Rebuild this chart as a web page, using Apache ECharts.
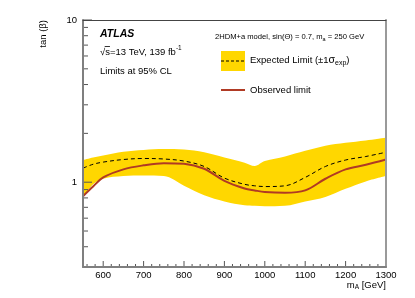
<!DOCTYPE html>
<html><head><meta charset="utf-8">
<script src="https://cdn.jsdelivr.net/npm/echarts@6/dist/echarts.min.js"></script>
<style>html,body{margin:0;padding:0;background:#fff}#c{width:415px;height:298px}</style>
</head><body><div id="c"></div>
<script>
// ---- data ----
const massPoints = [550, 575, 600, 650, 700, 750, 800, 850, 900, 950, 975, 1000, 1050, 1100, 1150, 1200, 1250, 1300];
const observed   = [0.82, 0.94, 1.07, 1.20, 1.27, 1.31, 1.30, 1.21, 1.02, 0.915, 0.89, 0.87, 0.86, 0.89, 1.05, 1.20, 1.28, 1.38];
const expected   = [1.22, 1.29, 1.33, 1.38, 1.40, 1.39, 1.35, 1.25, 1.06, 0.97, 0.95, 0.94, 0.95, 1.07, 1.25, 1.37, 1.44, 1.53];
const bandUpper  = [1.37, 1.42, 1.46, 1.54, 1.58, 1.60, 1.59, 1.53, 1.42, 1.32, 1.26, 1.35, 1.44, 1.56, 1.68, 1.75, 1.81, 1.88];
const bandLower  = [0.80, 0.97, 1.05, 1.09, 1.10, 1.09, 0.95, 0.83, 0.76, 0.72, 0.715, 0.71, 0.715, 0.76, 0.81, 0.91, 1.01, 1.09];
const xMajorTicks = [600, 700, 800, 900, 1000, 1100, 1200, 1300];
const xMinorTicks = [560, 580, 620, 640, 660, 680, 720, 740, 760, 780, 820, 840, 860, 880, 920, 940, 960, 980,
                     1020, 1040, 1060, 1080, 1120, 1140, 1160, 1180, 1220, 1240, 1260, 1280];
const yMajorTicks = [1, 10];
const yMinorTicks = [0.4, 0.5, 0.6, 0.7, 0.8, 0.9, 2, 3, 4, 5, 6, 7, 8, 9];
const X_MIN = 550, X_MAX = 1300, Y_MIN = 0.3, Y_MAX = 10;

// ---- helpers ----
const FONT = '"Liberation Sans", Arial, Helvetica, sans-serif';
const mctx = document.createElement('canvas').getContext('2d');
function tw(t, size, weight, style) {
  mctx.font = (style || 'normal') + ' ' + (weight || 'normal') + ' ' + size + 'px ' + FONT;
  return mctx.measureText(t).width;
}
// fragments: [text, fontSize, dy]
function runs(x, y, frags, align) {
  const total = frags.reduce((s, f) => s + tw(f[0], f[1]), 0);
  let cx = align === 'right' ? x - total : x;
  return frags.map(f => {
    const el = { type: 'text', x: cx, y: y + (f[2] || 0), silent: true, z: 100,
      style: { text: f[0], fontSize: f[1], fontFamily: FONT, fill: '#000', align: 'left', verticalAlign: 'middle' } };
    cx += tw(f[0], f[1]);
    return el;
  });
}
function tickSeries(values, axis, len) {
  return {
    type: 'custom', silent: true, clip: false, z: 10,
    data: values.map(v => axis === 'x' ? [v, Y_MIN] : [X_MIN, v]),
    renderItem: function (params, api) {
      const p = api.coord([api.value(0), api.value(1)]);
      const q = axis === 'x' ? [p[0], p[1] - len] : [p[0] + len, p[1]];
      return { type: 'line', shape: { x1: p[0], y1: p[1], x2: q[0], y2: q[1] },
               style: { stroke: '#555', lineWidth: 1 } };
    }
  };
}
const pair = (xs, ys) => xs.map((x, i) => [x, ys[i]]);

const YELLOW = '#ffd700';
const RED = '#b03a24';
const SMOOTH = 0.35;

const graphics = [];
graphics.push({ type: 'text', x: 100, y: 34, silent: true, z: 100,
  style: { text: 'ATLAS', fontSize: 10.5, fontWeight: 'bold', fontStyle: 'italic', fontFamily: FONT, fill: '#000', align: 'left', verticalAlign: 'middle' } });
graphics.push(...runs(100, 52, [['\u221As=13 TeV, 139 fb', 9.5, 0], ['-1', 6.5, -4]]));
(function () {
  const x0 = 100 + tw('\u221A', 9.5) - 0.5;
  const x1 = x0 + tw('s', 9.5) + 0.5;
  graphics.push({ type: 'line', silent: true, z: 100, shape: { x1: x0, y1: 46.5, x2: x1, y2: 46.5 }, style: { stroke: '#000', lineWidth: 0.8 } });
})();
graphics.push(...runs(100, 71, [['Limits at 95% CL', 9.5, 0]]));
graphics.push(...runs(215, 37, [['2HDM+a model, sin(\u0398) = 0.7, m', 7.6, 0], ['a', 5.5, 2], [' = 250 GeV', 7.6, 0]]));
graphics.push({ type: 'rect', silent: true, z: 100, shape: { x: 221, y: 51, width: 24, height: 20 }, style: { fill: YELLOW } });
graphics.push({ type: 'line', silent: true, z: 101, shape: { x1: 221, y1: 61, x2: 245, y2: 61 }, style: { stroke: '#000', lineWidth: 1, lineDash: [3, 2] } });
graphics.push(...runs(250, 60, [['Expected Limit (\u00B11', 9.5, 0], ['\u03C3', 10.5, 0], ['exp', 7, 3], [')', 9.5, 0]]));
graphics.push({ type: 'line', silent: true, z: 100, shape: { x1: 221, y1: 90, x2: 245, y2: 90 }, style: { stroke: RED, lineWidth: 2 } });
graphics.push(...runs(250, 90, [['Observed limit', 9.5, 0]]));
graphics.push(...runs(386, 285, [['m', 9.5, 0], ['A', 6.5, 2], [' [GeV]', 9.5, 0]], 'right'));
graphics.push({ type: 'text', x: 43, y: 20, rotation: Math.PI / 2, silent: true, z: 100,
  style: { text: 'tan (\u03B2)', fontSize: 9.5, fontFamily: FONT, fill: '#000', align: 'right', verticalAlign: 'middle' } });

const chart = echarts.init(document.getElementById('c'), null, { renderer: 'canvas' });
chart.setOption({
  animation: false,
  backgroundColor: '#fff',
  textStyle: { fontFamily: FONT },
  grid: { left: 83, right: 29, top: 20, bottom: 31, containLabel: false },
  xAxis: [{
    type: 'value', min: X_MIN, max: X_MAX, interval: 50, z: 20,
    axisLine: { show: true, onZero: false, lineStyle: { color: '#7f7f7f', width: 2 } },
    axisTick: { show: false }, splitLine: { show: false },
    axisLabel: { fontSize: 9.5, color: '#000', margin: 3,
      formatter: v => (xMajorTicks.indexOf(v) >= 0 ? String(v) : '') }
  }, {
    type: 'value', position: 'top', min: X_MIN, max: X_MAX, z: 20,
    axisLine: { show: true, onZero: false, lineStyle: { color: '#444', width: 1 } },
    axisTick: { show: false }, axisLabel: { show: false }, splitLine: { show: false }
  }],
  yAxis: [{
    type: 'log', logBase: 10, min: Y_MIN, max: Y_MAX, z: 20,
    axisLine: { show: true, lineStyle: { color: '#7f7f7f', width: 2 } },
    axisTick: { show: false }, splitLine: { show: false }, minorTick: { show: false },
    axisLabel: { fontSize: 9.5, color: '#000', margin: 6, showMinLabel: false,
      formatter: v => {
        const m = yMajorTicks.find(t => Math.abs(Math.log10(v) - Math.log10(t)) < 1e-6);
        return m !== undefined ? String(m) : '';
      } }
  }, {
    type: 'log', logBase: 10, position: 'right', min: Y_MIN, max: Y_MAX, z: 20,
    axisLine: { show: true, lineStyle: { color: '#9a9a9a', width: 2 } },
    axisTick: { show: false }, axisLabel: { show: false }, splitLine: { show: false }
  }],
  series: [
    { name: 'Band upper', type: 'line', data: pair(massPoints, bandUpper),
      smooth: SMOOTH, symbol: 'none', lineStyle: { opacity: 0 },
      areaStyle: { color: YELLOW, opacity: 1, origin: 'start' }, silent: true, z: 1 },
    { name: 'Band lower', type: 'line', data: pair(massPoints, bandLower),
      smooth: SMOOTH, symbol: 'none', lineStyle: { opacity: 0 },
      areaStyle: { color: '#ffffff', opacity: 1, origin: 'start' }, silent: true, z: 2 },
    { name: 'Expected Limit', type: 'line', data: pair(massPoints, expected),
      smooth: SMOOTH, symbol: 'none', lineStyle: { color: '#000', width: 1, type: [4, 3] }, z: 3 },
    { name: 'Observed limit', type: 'line', data: pair(massPoints, observed),
      smooth: SMOOTH, symbol: 'none', lineStyle: { color: RED, width: 2 }, z: 4 },
    tickSeries(xMajorTicks, 'x', 6),
    tickSeries(xMinorTicks, 'x', 3),
    tickSeries(yMajorTicks, 'y', 9),
    tickSeries(yMinorTicks, 'y', 5)
  ],
  graphic: graphics
});
</script>
</body></html>
